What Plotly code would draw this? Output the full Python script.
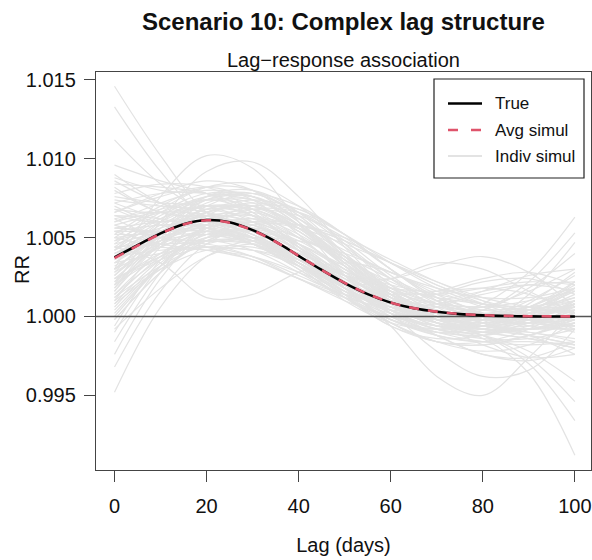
import plotly.graph_objects as go

# ---- data -------------------------------------------------------------
# Lags at which the true and average curves are tabulated
lag_fine = [0, 5, 10, 15, 20, 25, 30, 35, 40, 45, 50,
            55, 60, 65, 70, 75, 80, 85, 90, 95, 100]
rr_true = [1.00375, 1.00452, 1.00527, 1.00585, 1.00612, 1.00598, 1.00548,
           1.00475, 1.00385, 1.00295, 1.00212, 1.00142, 1.00088, 1.00052,
           1.00030, 1.00015, 1.00007, 1.00003, 1.00001, 1.00000, 1.00000]
rr_avg = [1.00370, 1.00449, 1.00525, 1.00584, 1.00610, 1.00595, 1.00546,
          1.00474, 1.00385, 1.00296, 1.00213, 1.00143, 1.00089, 1.00053,
          1.00031, 1.00016, 1.00008, 1.00004, 1.00002, 1.00001, 1.00001]

# Lags at which each simulated curve is tabulated
lag_knots = [0, 10, 20, 30, 40, 50, 60, 70, 80, 90, 100]
# Individual simulations: RR - 1, in thousandths, one row per simulation
indiv_excess_permille = [
    [14.6, 10.2, 6.6, 5.2, 3.8, 2.4, 1.2, 0.6, 0.4, 0.6, 1.2],
    [13.3, 9.2, 6.2, 5.0, 3.4, 1.8, 0.6, 0.0, -0.2, 0.2, 0.8],
    [11.2, 8.4, 6.6, 5.6, 4.2, 2.6, 1.2, 0.2, -0.6, -0.8, -0.4],
    [3.0, 7.6, 10.2, 9.4, 6.0, 2.6, 0.4, -0.6, -0.6, 0.2, 1.4],
    [2.0, 6.0, 9.2, 9.8, 7.6, 4.4, 1.6, 0.0, -0.6, -0.4, 0.4],
    [-4.8, 0.6, 3.8, 4.8, 4.2, 2.8, 1.4, 0.4, -0.2, -0.4, -0.2],
    [-3.2, 1.6, 4.6, 5.6, 4.8, 3.0, 1.2, 0.2, -0.2, 0.2, 1.0],
    [-2.4, 2.4, 5.4, 6.2, 5.0, 2.8, 0.8, -0.2, -0.4, 0.0, 0.6],
    [-1.6, 2.8, 5.8, 6.6, 5.4, 3.2, 1.0, -0.4, -1.0, -0.8, 0.0],
    [-1.0, 3.2, 5.6, 6.0, 4.6, 2.6, 1.0, 0.2, 0.0, 0.2, 0.4],
    [-0.6, 3.6, 6.4, 7.0, 5.6, 3.2, 1.0, -0.2, -0.6, -0.2, 0.8],
    [-0.2, 2.8, 4.8, 5.4, 4.6, 3.2, 1.8, 0.8, 0.2, -0.2, -0.6],
    [4.4, 3.4, 1.2, 1.4, 2.8, 3.4, 2.8, 1.4, 0.2, -0.6, -0.8],
    [4.0, 5.0, 5.6, 5.0, 3.6, 1.8, -0.6, -3.8, -5.0, -2.6, 0.4],
    [5.6, 6.0, 6.0, 5.2, 3.8, 2.2, 0.2, -2.2, -3.8, -3.4, -0.8],
    [3.0, 5.2, 6.4, 6.0, 4.4, 2.4, 0.6, -0.6, -1.4, -3.6, -8.8],
    [5.4, 5.8, 5.8, 5.0, 3.6, 2.0, 0.6, -0.4, -1.2, -3.0, -6.6],
    [2.4, 4.6, 6.0, 5.8, 4.4, 2.6, 0.8, -0.4, -1.2, -2.6, -5.4],
    [4.8, 5.6, 6.4, 5.6, 3.8, 1.8, 0.2, -0.8, -1.2, -2.2, -4.1],
    [6.0, 6.6, 6.4, 5.0, 3.2, 1.4, 0.2, 0.0, 0.8, 2.8, 6.3],
    [3.4, 5.0, 5.8, 5.2, 3.6, 1.8, 0.4, -0.2, 0.4, 2.2, 5.3],
    [2.6, 4.8, 6.2, 5.8, 4.2, 2.2, 0.4, -0.6, -0.4, 1.4, 4.7],
    [5.0, 5.4, 5.6, 4.8, 3.6, 2.0, 0.6, 0.0, 0.4, 1.8, 4.0],
    [4.2, 5.4, 5.8, 5.0, 3.8, 2.6, 2.4, 3.2, 3.8, 2.8, 0.6],
    [6.4, 6.2, 5.6, 4.6, 3.2, 2.0, 2.4, 3.4, 3.0, 1.6, 0.2],
    [8.8, 8.0, 7.8, 7.4, 6.2, 4.4, 2.4, 1.0, 0.2, -0.2, 0.0],
    [8.2, 6.6, 6.4, 6.8, 6.4, 5.0, 3.0, 1.2, 0.0, -0.4, 0.2],
    [7.6, 7.2, 7.0, 6.0, 4.2, 2.2, 0.6, -0.2, -0.2, 0.4, 1.6],
    [7.0, 6.0, 6.6, 7.2, 6.6, 4.8, 2.6, 0.8, -0.2, -0.4, 0.4],
    [6.6, 7.6, 8.2, 7.4, 5.2, 2.6, 0.4, -0.8, -1.0, -0.2, 1.0],
    [6.2, 5.0, 4.8, 4.6, 3.6, 2.0, 0.4, -1.2, -2.4, -2.6, -1.6],
    [5.8, 6.6, 7.6, 7.6, 6.2, 4.0, 1.8, 0.4, 0.0, 0.6, 2.0],
    [5.4, 4.6, 4.2, 3.6, 2.4, 1.0, 0.0, -0.6, -1.0, -1.4, -2.0],
    [5.2, 7.0, 8.2, 8.0, 6.4, 4.0, 1.6, 0.0, -0.6, -0.2, 1.0],
    [4.8, 6.2, 7.0, 6.4, 4.4, 2.0, 0.0, -1.2, -1.6, -1.2, -0.2],
    [4.6, 5.4, 6.2, 6.4, 5.6, 4.2, 2.8, 1.8, 1.2, 1.2, 1.8],
    [4.2, 6.4, 7.4, 6.6, 4.2, 1.4, -0.6, -1.4, -1.2, -0.4, 0.2],
    [3.8, 4.2, 4.4, 3.8, 2.6, 1.4, 0.8, 1.0, 1.6, 2.0, 1.6],
    [3.6, 6.0, 7.6, 7.8, 6.6, 4.6, 2.4, 0.6, -0.6, -0.8, 0.0],
    [3.2, 4.6, 5.4, 4.8, 3.2, 1.4, 0.4, 0.6, 1.6, 2.6, 3.0],
    [2.8, 5.6, 7.4, 7.6, 6.2, 3.8, 1.6, 0.2, -0.2, 0.4, 1.8],
    [2.2, 4.0, 4.8, 4.2, 2.8, 1.2, 0.0, -0.6, -0.8, -0.8, -0.8],
    [1.8, 4.8, 7.0, 7.8, 7.0, 5.2, 3.0, 1.2, 0.0, -0.4, 0.0],
    [1.4, 3.6, 4.8, 4.6, 3.4, 1.8, 0.4, -0.4, -0.6, -0.2, 0.8],
    [1.0, 4.4, 6.6, 7.0, 5.8, 3.6, 1.4, 0.0, -0.4, 0.0, 0.8],
    [0.6, 3.4, 5.2, 5.4, 4.2, 2.2, 0.4, -0.8, -1.4, -1.4, -0.8],
    [0.2, 3.2, 5.6, 6.8, 6.6, 5.2, 3.4, 1.8, 0.8, 0.4, 0.6],
    [7.8, 8.4, 8.2, 6.8, 4.6, 2.2, 0.2, -1.0, -1.0, 0.0, 1.8],
    [9.0, 7.2, 6.2, 5.2, 3.8, 2.2, 1.0, 0.2, -0.2, -0.2, 0.0],
    [8.4, 8.2, 7.8, 6.8, 5.0, 3.0, 1.2, 0.0, -0.6, -1.0, -1.4],
    [7.2, 6.2, 5.6, 4.6, 3.0, 1.2, -0.2, -1.0, -1.2, -0.6, 0.6],
    [6.8, 5.8, 5.8, 5.6, 4.6, 3.0, 1.6, 0.8, 0.6, 1.0, 1.6],
    [6.0, 7.2, 8.0, 7.6, 5.8, 3.4, 1.2, -0.2, -0.8, -1.0, -1.6],
    [5.6, 5.4, 5.4, 4.6, 3.0, 1.2, -0.4, -1.6, -2.2, -1.8, -0.4],
    [5.0, 6.8, 8.2, 8.4, 7.0, 4.6, 2.0, 0.2, -0.6, -0.6, 0.0],
    [4.4, 4.6, 4.6, 3.8, 2.4, 1.2, 0.6, 0.8, 1.4, 2.0, 2.2],
    [4.0, 5.4, 6.4, 6.4, 5.2, 3.4, 1.6, 0.2, -0.8, -1.2, -1.8],
    [3.4, 5.4, 6.4, 5.4, 3.2, 1.0, -0.4, -0.8, -0.2, 1.0, 2.6],
    [3.0, 4.4, 5.6, 6.0, 5.6, 4.6, 3.4, 2.2, 1.2, 0.6, 0.2],
    [2.6, 5.2, 6.8, 6.4, 4.4, 1.8, -0.4, -1.6, -1.8, -1.2, -0.4],
    [2.0, 3.8, 5.0, 5.0, 4.0, 2.6, 1.6, 1.4, 1.8, 2.2, 2.0],
    [1.6, 5.0, 7.2, 7.4, 5.8, 3.2, 0.8, -0.6, -0.8, 0.2, 2.2],
    [1.2, 3.2, 4.6, 5.0, 4.8, 4.0, 2.8, 1.6, 0.6, -0.2, -0.6],
    [0.8, 3.6, 5.2, 5.0, 3.4, 1.2, -0.6, -1.6, -1.8, -1.2, 0.0],
    [7.4, 7.0, 6.8, 6.2, 5.0, 3.6, 2.2, 1.0, 0.2, -0.4, -0.6],
    [6.4, 6.0, 6.8, 7.4, 6.8, 5.2, 3.0, 1.0, -0.4, -0.8, 0.0],
    [5.8, 5.0, 4.4, 3.6, 2.4, 1.4, 1.0, 1.4, 2.2, 2.4, 1.4],
    [4.6, 6.6, 7.8, 7.6, 6.0, 3.6, 1.4, 0.0, -0.4, 0.0, 0.8],
    [3.8, 4.8, 5.2, 4.6, 3.2, 1.6, 0.4, -0.4, -0.8, -1.2, -1.8],
    [3.0, 5.2, 6.8, 7.0, 5.8, 3.8, 1.8, 0.6, 0.2, 0.6, 1.0],
    [2.4, 3.6, 4.4, 4.4, 3.6, 2.6, 1.8, 1.2, 0.8, 0.6, 0.6],
    [1.8, 5.2, 7.6, 8.0, 6.6, 4.0, 1.4, -0.4, -1.0, -0.4, 1.0],
    [1.2, 3.8, 5.6, 5.8, 4.6, 3.0, 1.6, 0.8, 0.6, 0.6, 0.2],
    [0.4, 3.2, 5.0, 5.0, 3.6, 1.6, -0.2, -1.2, -1.6, -1.6, -1.8],
    [-0.2, 2.8, 5.0, 6.0, 5.8, 4.8, 3.4, 2.0, 1.0, 0.4, 0.4],
    [8.6, 7.2, 6.6, 6.0, 5.0, 3.8, 2.4, 1.2, 0.4, 0.4, 1.2],
    [7.2, 7.8, 7.8, 6.6, 4.4, 1.8, -0.2, -1.0, -0.6, 0.8, 2.8],
    [6.2, 6.8, 7.4, 7.0, 5.6, 3.6, 1.6, 0.2, -0.6, -0.8, -0.4],
    [5.2, 5.2, 5.2, 4.6, 3.4, 1.8, 0.2, -1.2, -2.4, -2.8, -2.0],
    [4.2, 6.0, 7.0, 6.4, 4.4, 1.8, -0.4, -1.6, -1.6, -0.8, 0.8],
    [3.6, 4.8, 5.8, 6.2, 5.8, 4.8, 3.4, 2.0, 0.8, -0.2, -1.0],
    [2.8, 4.4, 5.2, 4.8, 3.4, 1.6, 0.0, -1.0, -1.6, -1.8, -1.6],
    [2.2, 5.2, 7.4, 7.8, 6.4, 3.8, 1.2, -0.4, -0.6, 0.4, 1.6],
    [1.4, 4.0, 5.4, 5.0, 3.4, 1.4, -0.2, -0.8, -0.6, 0.0, 0.6],
    [0.8, 3.0, 4.8, 5.8, 5.8, 5.0, 3.6, 2.2, 1.0, 0.0, -0.6],
    [9.6, 8.6, 7.8, 6.4, 4.6, 2.6, 1.0, 0.0, -0.4, 0.0, 0.4],
    [8.0, 6.6, 6.2, 5.4, 3.8, 2.0, 0.6, -0.2, -0.2, 0.6, 1.8],
    [6.6, 7.8, 8.6, 8.0, 6.0, 3.4, 1.0, -0.4, -0.6, 0.0, 0.8],
    [5.4, 5.4, 5.4, 4.8, 3.4, 1.8, 0.6, 0.2, 0.6, 1.6, 3.0],
    [4.4, 6.2, 7.4, 7.2, 5.6, 3.4, 1.2, -0.2, -0.8, -0.8, -0.6],
    [3.4, 4.0, 4.4, 4.2, 3.6, 2.8, 2.0, 1.4, 0.8, 0.2, -0.8],
    [2.0, 4.6, 6.6, 7.0, 5.8, 3.6, 1.4, -0.2, -1.0, -1.4, -2.0],
    [1.0, 3.0, 4.2, 4.2, 3.2, 2.0, 1.4, 1.6, 2.4, 2.8, 2.0],
    [0.0, 3.2, 5.8, 7.0, 6.8, 5.2, 3.0, 1.0, -0.4, -0.8, -0.2],
    [-0.8, 1.8, 3.8, 4.6, 4.0, 2.6, 1.0, -0.4, -1.8, -2.6, -2.4],
    [6.8, 6.6, 7.0, 6.8, 5.6, 3.8, 2.0, 0.8, 0.2, 0.4, 1.0],
    [5.0, 4.4, 4.2, 3.8, 2.8, 1.6, 0.6, 0.0, -0.6, -1.2, -2.4],
    [3.8, 5.8, 7.0, 6.8, 5.4, 3.4, 1.4, 0.2, -0.2, 0.6, 2.2],
    [2.4, 3.8, 4.8, 4.8, 3.8, 2.6, 1.8, 1.6, 1.8, 1.4, 0.2],
    [1.6, 4.6, 6.6, 6.8, 5.4, 3.2, 1.2, 0.2, 0.0, 0.4, 0.2],
]

x_ticks = [0, 20, 40, 60, 80, 100]
y_ticks = [0.995, 1.000, 1.005, 1.010, 1.015]
y_tick_text = ["0.995", "1.000", "1.005", "1.010", "1.015"]
x_range = [-4.02, 103.5]
y_range = [0.990264, 1.015507]
reference_rr = 1.0

legend_labels = ["True", "Avg simul", "Indiv simul"]

# ---- styling ----------------------------------------------------------
FONT = "Liberation Sans, Arial, Helvetica, sans-serif"
GREY = "#E3E3E3"
PINK = "#DF536B"
AXIS = "#444444"

fig = go.Figure()

# individual simulated curves
for row in indiv_excess_permille:
    fig.add_trace(go.Scatter(
        x=lag_knots, y=[1 + v / 1000 for v in row], mode="lines",
        line=dict(color=GREY, width=1.2, shape="spline", smoothing=1.0),
        hoverinfo="skip", showlegend=False))

# null reference line RR = 1
fig.add_trace(go.Scatter(
    x=x_range, y=[reference_rr, reference_rr], mode="lines",
    line=dict(color="#555555", width=1.3), hoverinfo="skip", showlegend=False))

# true association
fig.add_trace(go.Scatter(
    x=lag_fine, y=rr_true, mode="lines", name="True",
    line=dict(color="black", width=2.6, shape="spline"), showlegend=False))

# average of simulations
fig.add_trace(go.Scatter(
    x=lag_fine, y=rr_avg, mode="lines", name="Avg simul",
    line=dict(color=PINK, width=2.6, dash="10px,9px", shape="spline"),
    showlegend=False))

axis_common = dict(
    showline=True, mirror=True, linecolor=AXIS, linewidth=1.3,
    ticks="outside", ticklen=11, tickwidth=1.3, tickcolor=AXIS,
    showgrid=False, zeroline=False,
    tickfont=dict(family=FONT, size=20, color="#111111"),
)

fig.update_xaxes(range=x_range, tickvals=x_ticks, ticktext=[str(t) for t in x_ticks],
                 title=dict(text="Lag (days)", font=dict(family=FONT, size=20, color="#111111"),
                            standoff=21),
                 ticklabelstandoff=7, **axis_common)
fig.update_yaxes(range=y_range, tickvals=y_ticks, ticktext=y_tick_text,
                 ticklabelstandoff=4, **axis_common)

# ---- titles & labels -------------------------------------------------
ann = []
ann.append(dict(text="<b>Scenario 10: Complex lag structure</b>", xref="paper", yref="paper",
                x=0.5, y=1.126, xanchor="center", yanchor="middle", showarrow=False,
                font=dict(family=FONT, size=24, color="#111111")))
ann.append(dict(text="Lag\u2212response association", xref="paper", yref="paper",
                x=0.5, y=1.03, xanchor="center", yanchor="middle", showarrow=False,
                font=dict(family=FONT, size=20, color="#111111")))
ann.append(dict(text="RR", xref="paper", yref="paper", textangle=-90,
                x=(22 - 96) / 495, y=(470 - 270) / 398, xanchor="center", yanchor="middle",
                showarrow=False, font=dict(family=FONT, size=20, color="#111111")))

# ---- legend box -------------------------------------------------------
shapes = []
lx0, lx1 = (434 - 96) / 495, (584 - 96) / 495
ly1, ly0 = (470 - 79) / 398, (470 - 178) / 398
shapes.append(dict(type="rect", xref="paper", yref="paper", x0=lx0, x1=lx1, y0=ly0, y1=ly1,
                   line=dict(color="#222222", width=1.2), fillcolor="white", layer="above"))
row_y = [(470 - 103.5) / 398, (470 - 130) / 398, (470 - 156) / 398]
seg_x0, seg_x1 = (448 - 96) / 495, (482 - 96) / 495
legend_styles = [
    dict(color="black", width=2.6),
    dict(color=PINK, width=2.6, dash="10px,13px"),
    dict(color=GREY, width=2.0),
]
for y, st, lab in zip(row_y, legend_styles, legend_labels):
    shapes.append(dict(type="line", xref="paper", yref="paper", x0=seg_x0, x1=seg_x1,
                       y0=y, y1=y, line=st, layer="above"))
    ann.append(dict(text=lab, xref="paper", yref="paper", x=(493 - 96) / 495, y=y,
                    xanchor="left", yanchor="middle", showarrow=False,
                    font=dict(family=FONT, size=17, color="#111111")))

fig.update_layout(
    width=592, height=560,
    margin=dict(l=96, r=1, t=72, b=90, pad=0),
    paper_bgcolor="white", plot_bgcolor="white",
    showlegend=False,
    annotations=ann, shapes=shapes,
    font=dict(family=FONT, color="#111111"),
)

fig.write_html("out.html")
